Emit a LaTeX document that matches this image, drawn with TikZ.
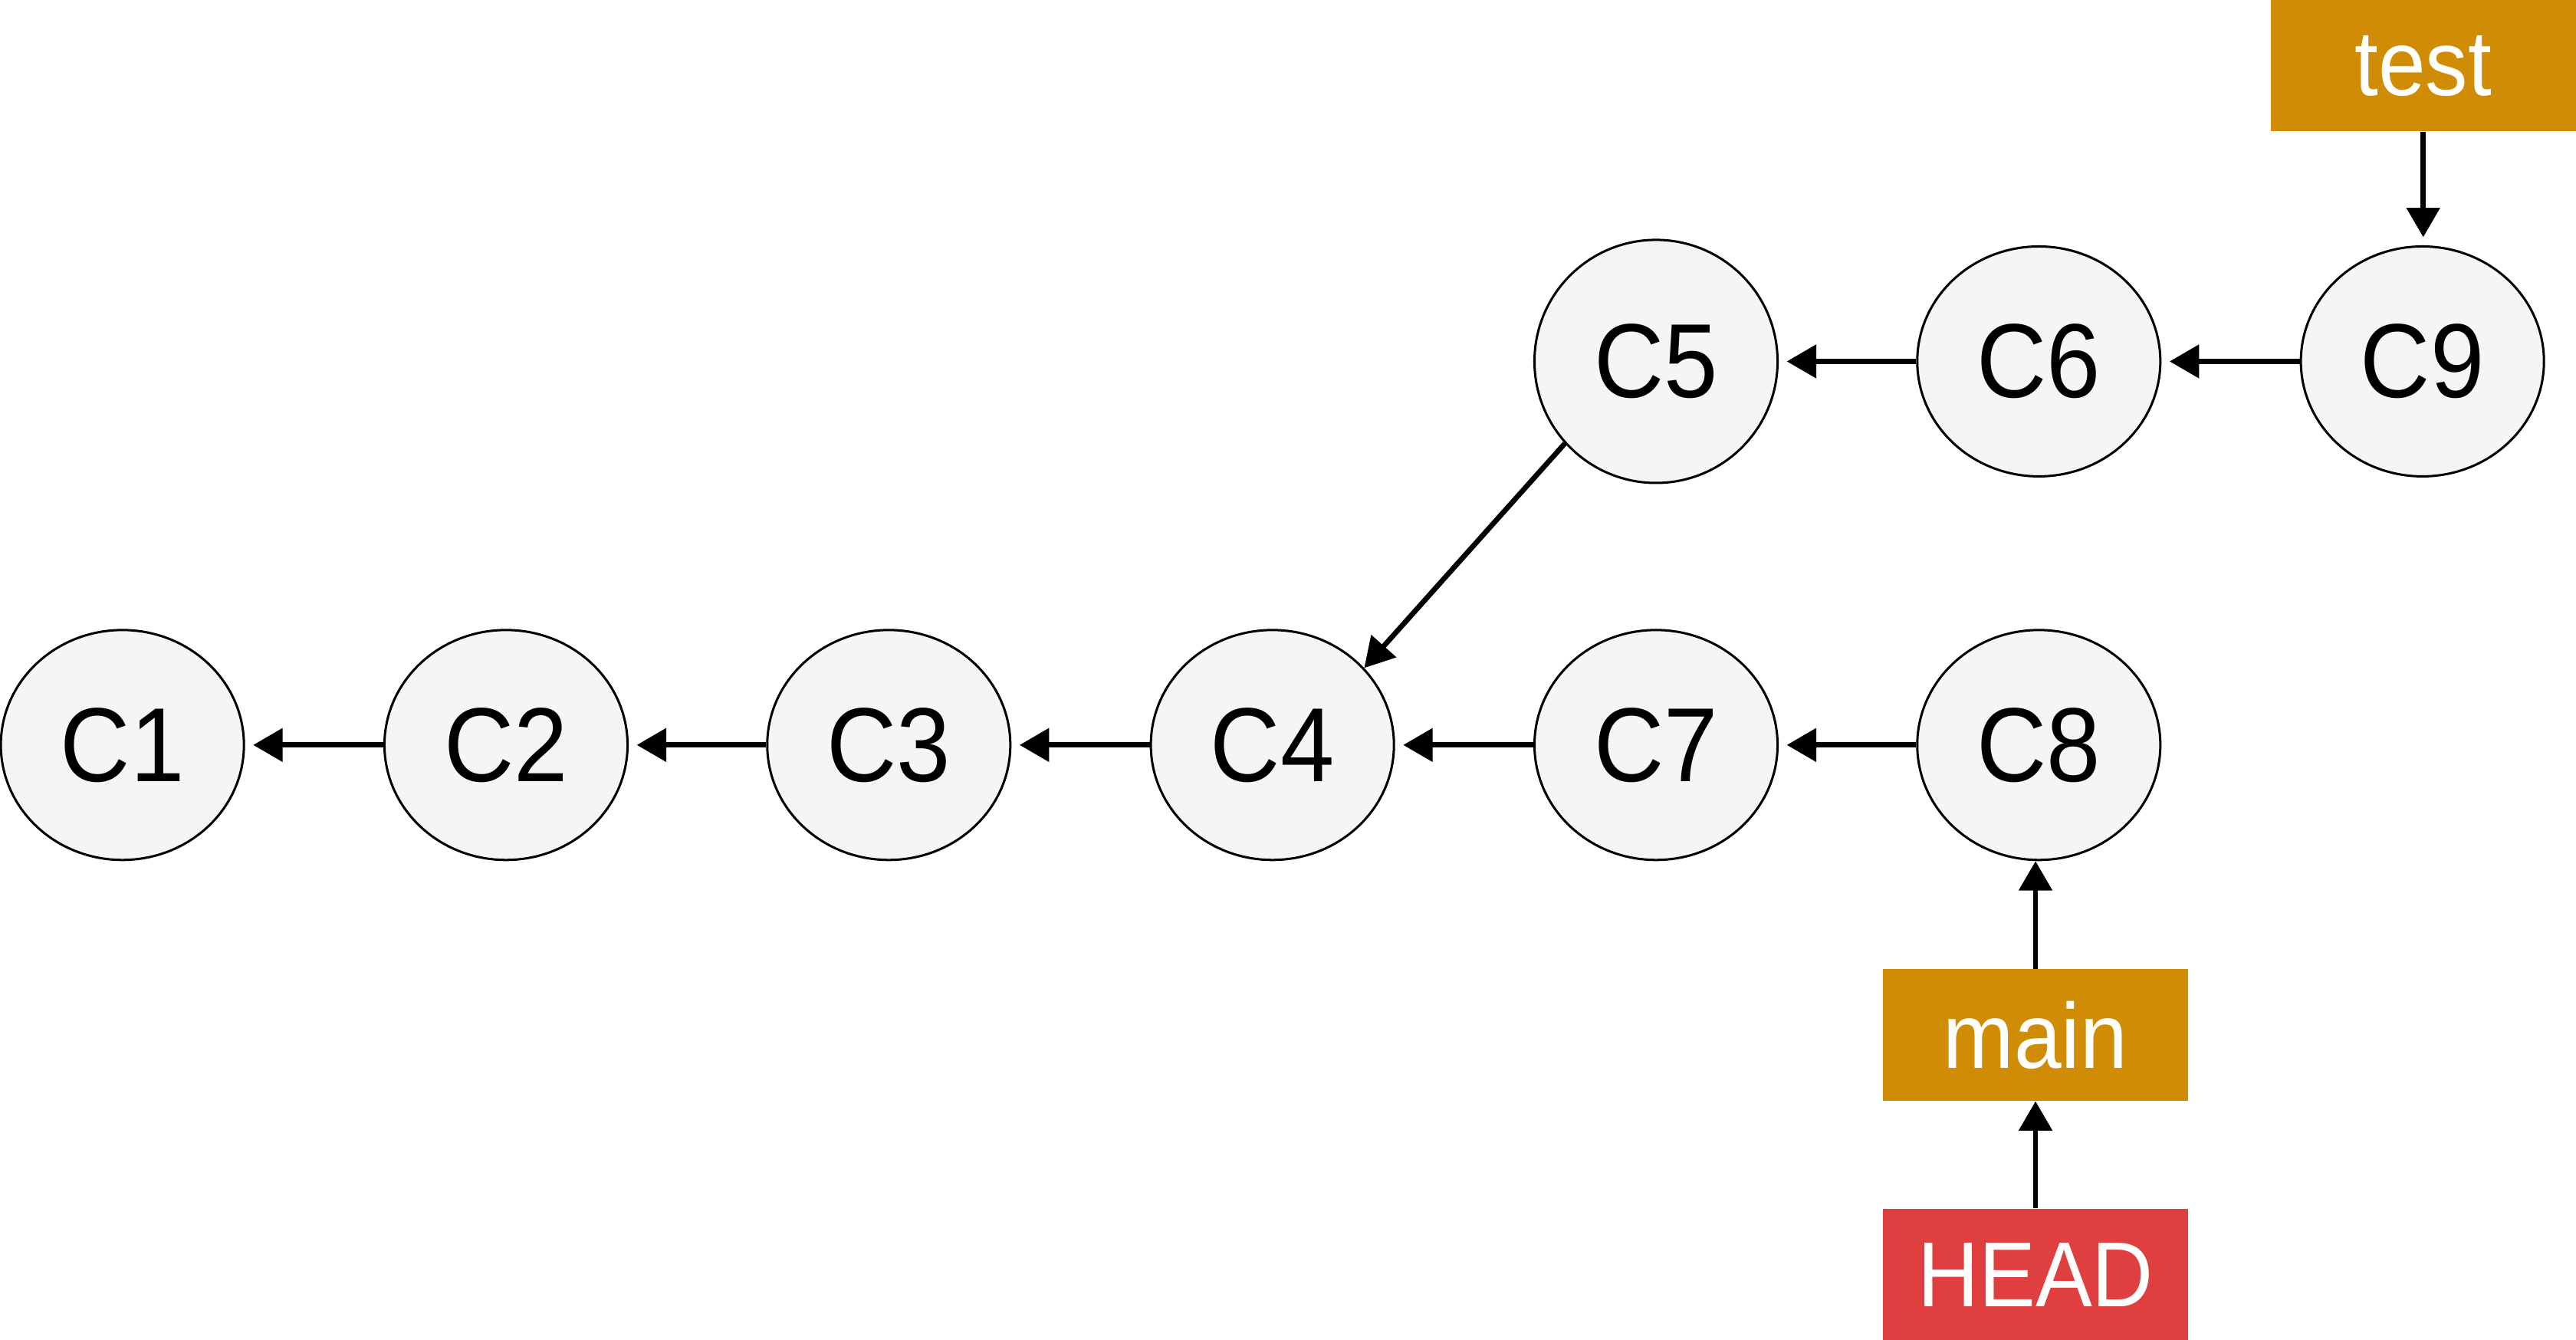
\documentclass[tikz,border=0pt]{standalone}
\usepackage{fontspec}
\setmainfont{Liberation Sans}[FakeStretch=0.92]
\usetikzlibrary{arrows.meta,shapes.geometric}
\definecolor{commitfill}{HTML}{F5F5F5}
\definecolor{branchfill}{HTML}{D18C05}
\definecolor{headfill}{HTML}{E03F3F}
\begin{document}
\begin{tikzpicture}[x=0.02cm,y=-0.02cm,
  commit/.style={ellipse, draw=black, line width=0.8pt, fill=commitfill,
    minimum width=2.96cm, minimum height=2.8cm, inner sep=0pt,
    font=\fontsize{36.5}{40}\selectfont},
  branch/.style={rectangle, fill=branchfill, minimum width=3.72cm,
    minimum height=1.6cm, inner sep=0pt, text=white,
    font=\fontsize{32}{36}\selectfont},
  headbox/.style={branch, fill=headfill},
  link/.style={line width=1.8pt, -{Triangle[length=10.2pt,width=11.3pt]}},
  gap/.style={shorten >=2.8pt}]
\useasboundingbox (0,0) rectangle (1568,815.7);

\node[commit] (C1) at (74.5,453.5) {C1};
\node[commit] (C2) at (308,453.5) {C2};
\node[commit] (C3) at (541,453.5) {C3};
\node[commit] (C4) at (774.5,453.5) {C4};
\node[commit] (C7) at (1008,453.5) {C7};
\node[commit] (C8) at (1241,453.5) {C8};
\node[commit, minimum height=2.96cm] (C5) at (1008,220) {C5};
\node[commit] (C6) at (1241,220) {C6};
\node[commit] (C9) at (1474.5,220) {C9};

\node[branch] (test) at (1475,40) {test};
\node[branch] (main) at (1239,630) {main};
\node[headbox] (HEAD) at (1239,776) {HEAD};

\draw[link,gap] (C2) -- (C1);
\draw[link,gap] (C3) -- (C2);
\draw[link,gap] (C4) -- (C3);
\draw[link,gap] (C7) -- (C4);
\draw[link,gap] (C8) -- (C7);
\draw[link,gap] (C6) -- (C5);
\draw[link,gap] (C9) -- (C6);
\draw[link,gap] (test) -- (test |- C9.north);
\draw[link] (main) -- (main |- C8.south);
\draw[link] (HEAD) -- (main);
\draw[link] (C5.222) -- (C4.40);
\end{tikzpicture}
\end{document}
